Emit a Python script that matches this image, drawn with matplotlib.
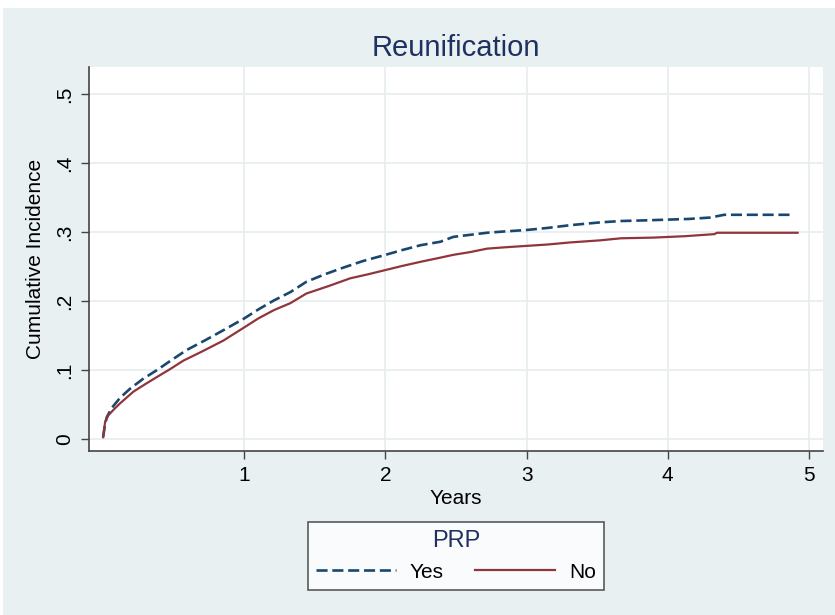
import matplotlib
matplotlib.use("Agg")
import matplotlib.pyplot as plt
from matplotlib.patches import Rectangle

# cumulative incidence, PRP = Yes / No
years_yes = [0.0, 0.014, 0.026, 0.06, 0.12, 0.19, 0.28, 0.38, 0.48, 0.59, 0.72, 0.853, 1.0,
             1.1, 1.21, 1.326, 1.44, 1.56, 1.68, 1.84, 2.0, 2.12, 2.25, 2.39, 2.48, 2.6,
             2.72, 2.85, 3.0, 3.15, 3.31, 3.52, 3.67, 3.85, 4.0, 4.15, 4.3, 4.4, 4.6, 4.87]
cif_yes = [0.003, 0.022, 0.032, 0.045, 0.06, 0.073, 0.087, 0.1, 0.114, 0.129, 0.143, 0.158, 0.175,
           0.188, 0.201, 0.213, 0.228, 0.238, 0.247, 0.258, 0.267, 0.274, 0.281, 0.286, 0.293, 0.296,
           0.299, 0.301, 0.303, 0.306, 0.310, 0.314, 0.316, 0.317, 0.318, 0.319, 0.321, 0.325, 0.325, 0.325]

years_no = [0.0, 0.014, 0.038, 0.08, 0.12, 0.215, 0.3, 0.38, 0.47, 0.57, 0.7, 0.853, 1.0,
            1.1, 1.21, 1.326, 1.44, 1.6, 1.75, 1.88, 2.0, 2.12, 2.25, 2.39, 2.48, 2.6,
            2.72, 2.85, 3.0, 3.15, 3.31, 3.52, 3.67, 3.9, 4.12, 4.33, 4.35, 4.6, 4.92]
cif_no = [0.003, 0.025, 0.035, 0.044, 0.052, 0.069, 0.08, 0.09, 0.101, 0.114, 0.127, 0.143, 0.162,
          0.175, 0.187, 0.197, 0.211, 0.222, 0.233, 0.239, 0.245, 0.251, 0.257, 0.263, 0.267, 0.271,
          0.276, 0.278, 0.280, 0.282, 0.285, 0.288, 0.291, 0.292, 0.294, 0.297, 0.299, 0.299, 0.299]

xticks = [1, 2, 3, 4, 5]
yticks = [0, 0.1, 0.2, 0.3, 0.4, 0.5]
ylabels = ["0", ".1", ".2", ".3", ".4", ".5"]

navy = "#1a476f"
maroon = "#90353b"
bg = "#e8f0f2"
titlecol = "#1e3160"

plt.rcParams["font.family"] = ["Liberation Sans", "DejaVu Sans"]

fig = plt.figure(figsize=(8.35, 6.15), dpi=100, facecolor="white")
fig.patches.append(Rectangle((3 / 835, 0), 1, 1 - 8 / 615, transform=fig.transFigure,
                             facecolor=bg, edgecolor="none", zorder=-10))

ax = fig.add_axes([89 / 835, 1 - 451 / 615, (823 - 89) / 835, (451 - 67) / 615])
ax.set_facecolor("white")

ax.plot(years_yes, cif_yes, color=navy, lw=1.9, dashes=(4.2, 1.8), label="Yes")
ax.plot(years_no, cif_no, color=maroon, lw=1.6, label="No")

ax.set_xlim(-0.1, 5.1)
ax.set_ylim(-0.017, 0.539)
ax.set_xticks(xticks)
ax.set_yticks(yticks)
ax.set_yticklabels(ylabels, rotation=90, va="center")
ax.grid(True, color="#e6eef0", lw=1.2)
ax.set_axisbelow(True)

for s in ["top", "right"]:
    ax.spines[s].set_visible(False)
for s in ["left", "bottom"]:
    ax.spines[s].set_color("#444444")
    ax.spines[s].set_linewidth(1.2)
ax.tick_params(direction="out", length=6, width=1, color="#444444", labelsize=15, pad=5)

ax.set_xlabel("Years", fontsize=15, labelpad=3)
ax.set_ylabel("Cumulative Incidence", fontsize=15, labelpad=7)
ax.set_title("Reunification", fontsize=21, color=titlecol, pad=8)

leg = fig.legend(loc="center", bbox_to_anchor=(0.546, 0.096), ncol=2, title="PRP",
                 fontsize=15, title_fontsize=17, handlelength=3.85, handletextpad=0.65,
                 columnspacing=1.5, frameon=True, fancybox=False, borderpad=0.4)
leg.get_title().set_color(titlecol)
leg.get_frame().set_edgecolor("#333333")
leg.get_frame().set_linewidth(1.2)

fig.savefig("out.png", dpi=100, facecolor="white")
